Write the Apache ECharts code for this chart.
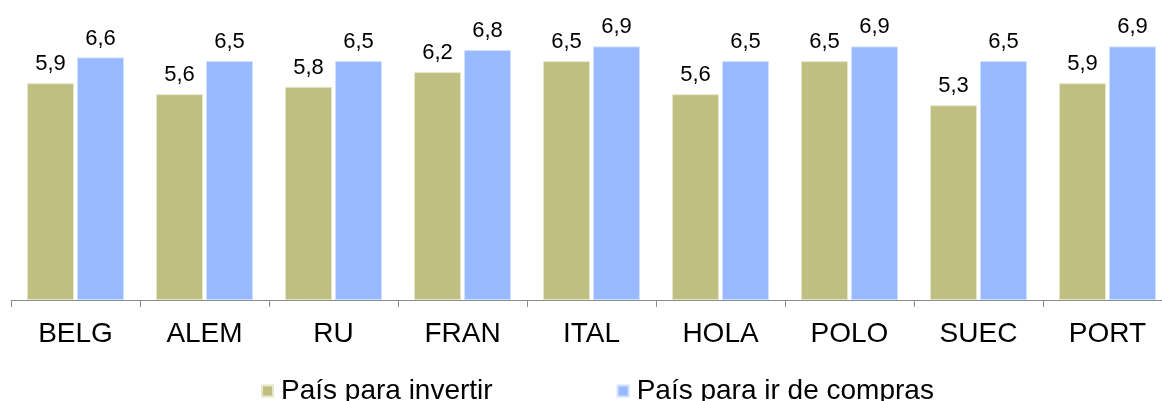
<!DOCTYPE html>
<html>
<head>
<meta charset="utf-8">
<script src="https://cdn.jsdelivr.net/npm/echarts@6/dist/echarts.min.js"></script>
<style>
html,body{margin:0;padding:0;background:#fff;}
#c{width:1162px;height:401px;}
</style>
</head>
<body>
<div id="c"></div>
<script>
const categories = ['BELG','ALEM','RU','FRAN','ITAL','HOLA','POLO','SUEC','PORT'];
const invertir = [5.9,5.6,5.8,6.2,6.5,5.6,6.5,5.3,5.9];
const compras = [6.6,6.5,6.5,6.8,6.9,6.5,6.9,6.5,6.9];
const seriesNames = ['País para invertir','País para ir de compras'];

const font = '"Liberation Sans", Arial, sans-serif';
const chart = echarts.init(document.getElementById('c'), null, {renderer:'canvas'});
const lbl = {
  show:true, position:'top', distance:8, color:'#000', fontSize:22, fontFamily:font,
  formatter: p => p.value.toFixed(1).replace('.', ',')
};
chart.setOption({
  animation:false,
  grid:{left:11, top:6, width:1161, height:294, outerBoundsMode:'none', containLabel:false},
  legend:{
    left:256, top:372, itemWidth:11, itemHeight:11, itemGap:124, icon:'rect',
    textStyle:{fontSize:28, fontFamily:font, color:'#000', padding:[0,0,0,3]},
    data:seriesNames
  },
  xAxis:{
    type:'category', data:categories,
    axisLine:{lineStyle:{color:'#8c8c8c', width:1}},
    axisTick:{show:true, length:7, alignWithLabel:false, lineStyle:{color:'#8c8c8c'}},
    axisLabel:{fontSize:28, fontFamily:font, color:'#000', margin:20}
  },
  yAxis:{type:'value', min:0, max:8, show:false, splitLine:{show:false}},
  series:[
    {name:seriesNames[0], type:'bar', data:invertir, barWidth:47, barGap:'6.4%',
     itemStyle:{color:'#BFBF82', borderColor:'#E6E6C8', borderWidth:1}, label:lbl},
    {name:seriesNames[1], type:'bar', data:compras, barWidth:47,
     itemStyle:{color:'#97B9FF', borderColor:'#D0DEFF', borderWidth:1}, label:lbl}
  ]
});
</script>
</body>
</html>
